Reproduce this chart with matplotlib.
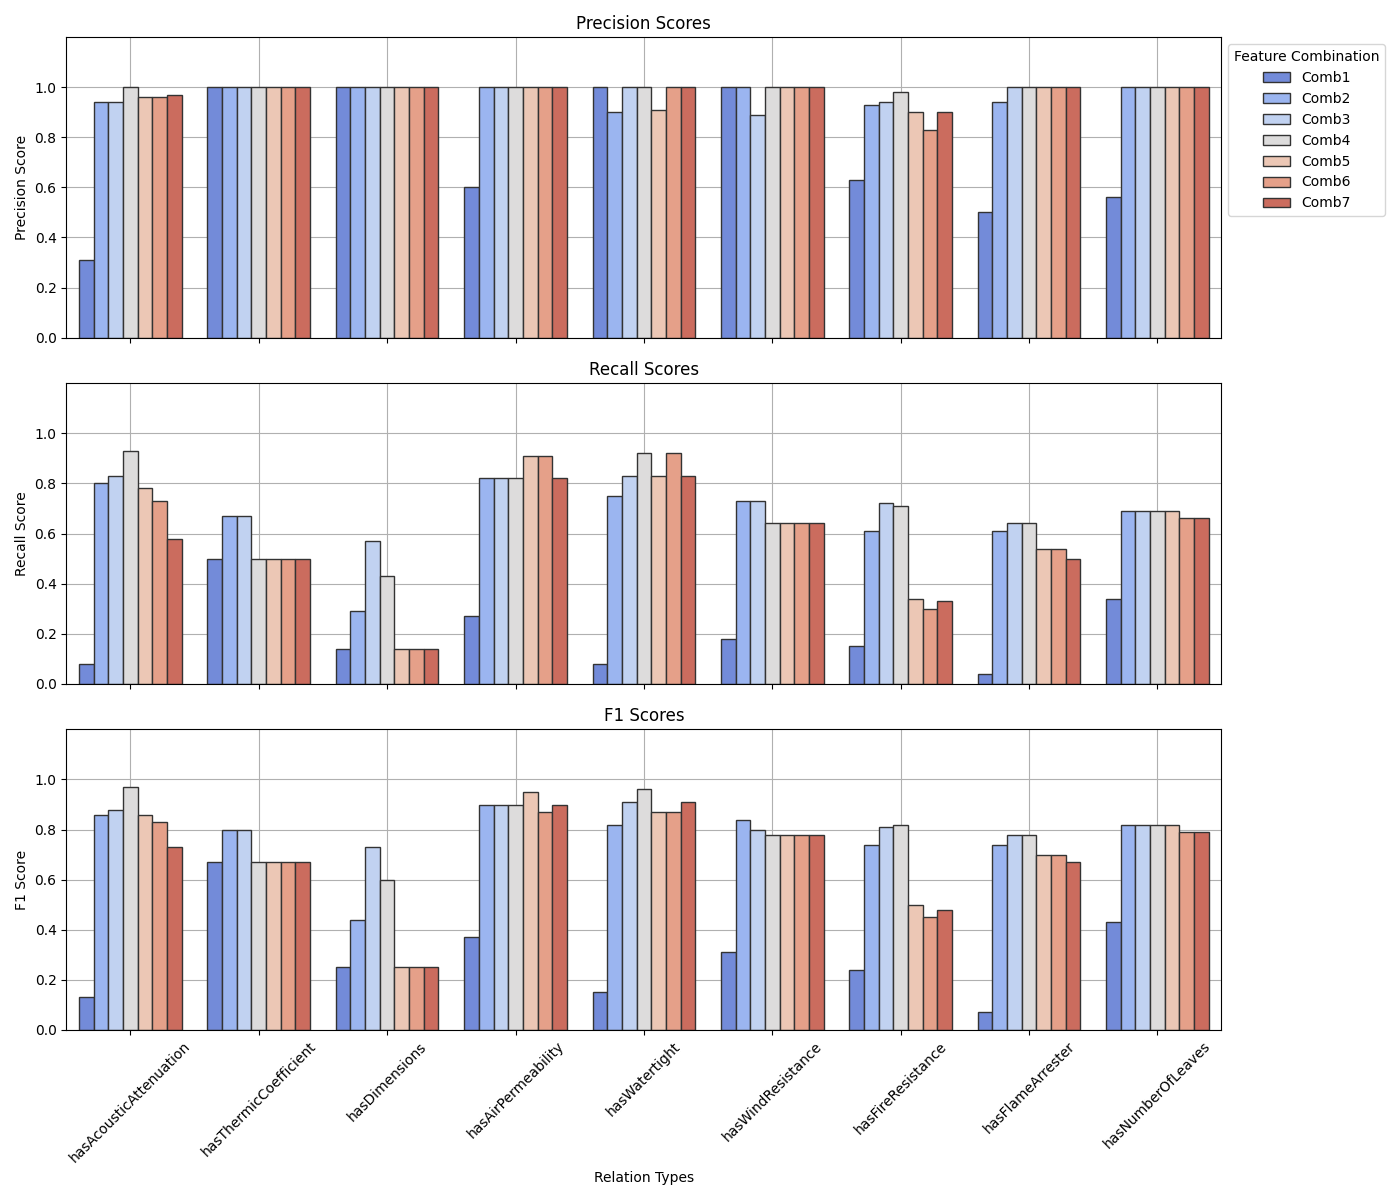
import numpy as np
import pandas as pd
import seaborn as sns
import matplotlib
matplotlib.use('Agg')
import matplotlib.pyplot as plt

# relation types on the x axis
relations = ['hasAcousticAttenuation', 'hasThermicCoefficient', 'hasDimensions',
             'hasAirPermeability', 'hasWatertight', 'hasWindResistance',
             'hasFireResistance', 'hasFlameArrester', 'hasNumberOfLeaves']
combos = ['Comb1', 'Comb2', 'Comb3', 'Comb4', 'Comb5', 'Comb6', 'Comb7']

# one row per feature combination, one value per relation
precision = [
    [0.31, 1.00, 1.00, 0.60, 1.00, 1.00, 0.63, 0.50, 0.56],
    [0.94, 1.00, 1.00, 1.00, 0.90, 1.00, 0.93, 0.94, 1.00],
    [0.94, 1.00, 1.00, 1.00, 1.00, 0.89, 0.94, 1.00, 1.00],
    [1.00, 1.00, 1.00, 1.00, 1.00, 1.00, 0.98, 1.00, 1.00],
    [0.96, 1.00, 1.00, 1.00, 0.91, 1.00, 0.90, 1.00, 1.00],
    [0.96, 1.00, 1.00, 1.00, 1.00, 1.00, 0.83, 1.00, 1.00],
    [0.97, 1.00, 1.00, 1.00, 1.00, 1.00, 0.90, 1.00, 1.00],
]
recall = [
    [0.08, 0.50, 0.14, 0.27, 0.08, 0.18, 0.15, 0.04, 0.34],
    [0.80, 0.67, 0.29, 0.82, 0.75, 0.73, 0.61, 0.61, 0.69],
    [0.83, 0.67, 0.57, 0.82, 0.83, 0.73, 0.72, 0.64, 0.69],
    [0.93, 0.50, 0.43, 0.82, 0.92, 0.64, 0.71, 0.64, 0.69],
    [0.78, 0.50, 0.14, 0.91, 0.83, 0.64, 0.34, 0.54, 0.69],
    [0.73, 0.50, 0.14, 0.91, 0.92, 0.64, 0.30, 0.54, 0.66],
    [0.58, 0.50, 0.14, 0.82, 0.83, 0.64, 0.33, 0.50, 0.66],
]
f1 = [
    [0.13, 0.67, 0.25, 0.37, 0.15, 0.31, 0.24, 0.07, 0.43],
    [0.86, 0.80, 0.44, 0.90, 0.82, 0.84, 0.74, 0.74, 0.82],
    [0.88, 0.80, 0.73, 0.90, 0.91, 0.80, 0.81, 0.78, 0.82],
    [0.97, 0.67, 0.60, 0.90, 0.96, 0.78, 0.82, 0.78, 0.82],
    [0.86, 0.67, 0.25, 0.95, 0.87, 0.78, 0.50, 0.70, 0.82],
    [0.83, 0.67, 0.25, 0.87, 0.87, 0.78, 0.45, 0.70, 0.79],
    [0.73, 0.67, 0.25, 0.90, 0.91, 0.78, 0.48, 0.67, 0.79],
]

metrics = [('Precision', precision), ('Recall', recall), ('F1', f1)]

#long-form table for seaborn
rows = []
for metric, values in metrics:
    for c, combo in enumerate(combos):
        for r, rel in enumerate(relations):
            rows.append({'Metric': metric, 'Feature Combination': combo,
                         'Relation': rel, 'Score': values[c][r]})
df = pd.DataFrame(rows)

fig, axes = plt.subplots(3, 1, figsize=(14, 12), sharex=True)

for ax, (metric, _) in zip(axes, metrics):
    sns.barplot(data=df[df['Metric'] == metric], x='Relation', y='Score',
                hue='Feature Combination', palette='coolwarm',
                edgecolor='.2', linewidth=1, ax=ax)
    ax.set_title(metric + ' Scores', fontsize=12)
    ax.set_ylabel(metric + ' Score')
    ax.set_xlabel('')
    ax.set_ylim(0, 1.2)
    ax.set_yticks(np.arange(0, 1.01, 0.2))
    ax.grid(True)
    ax.set_axisbelow(True)
    if ax is axes[0]:
        ax.legend(title='Feature Combination', bbox_to_anchor=(1, 1), loc='upper left')
    else:
        ax.get_legend().remove()

axes[-1].set_xlabel('Relation Types')
plt.setp(axes[-1].get_xticklabels(), rotation=45)

plt.tight_layout()
plt.savefig('out.png', dpi=100)
